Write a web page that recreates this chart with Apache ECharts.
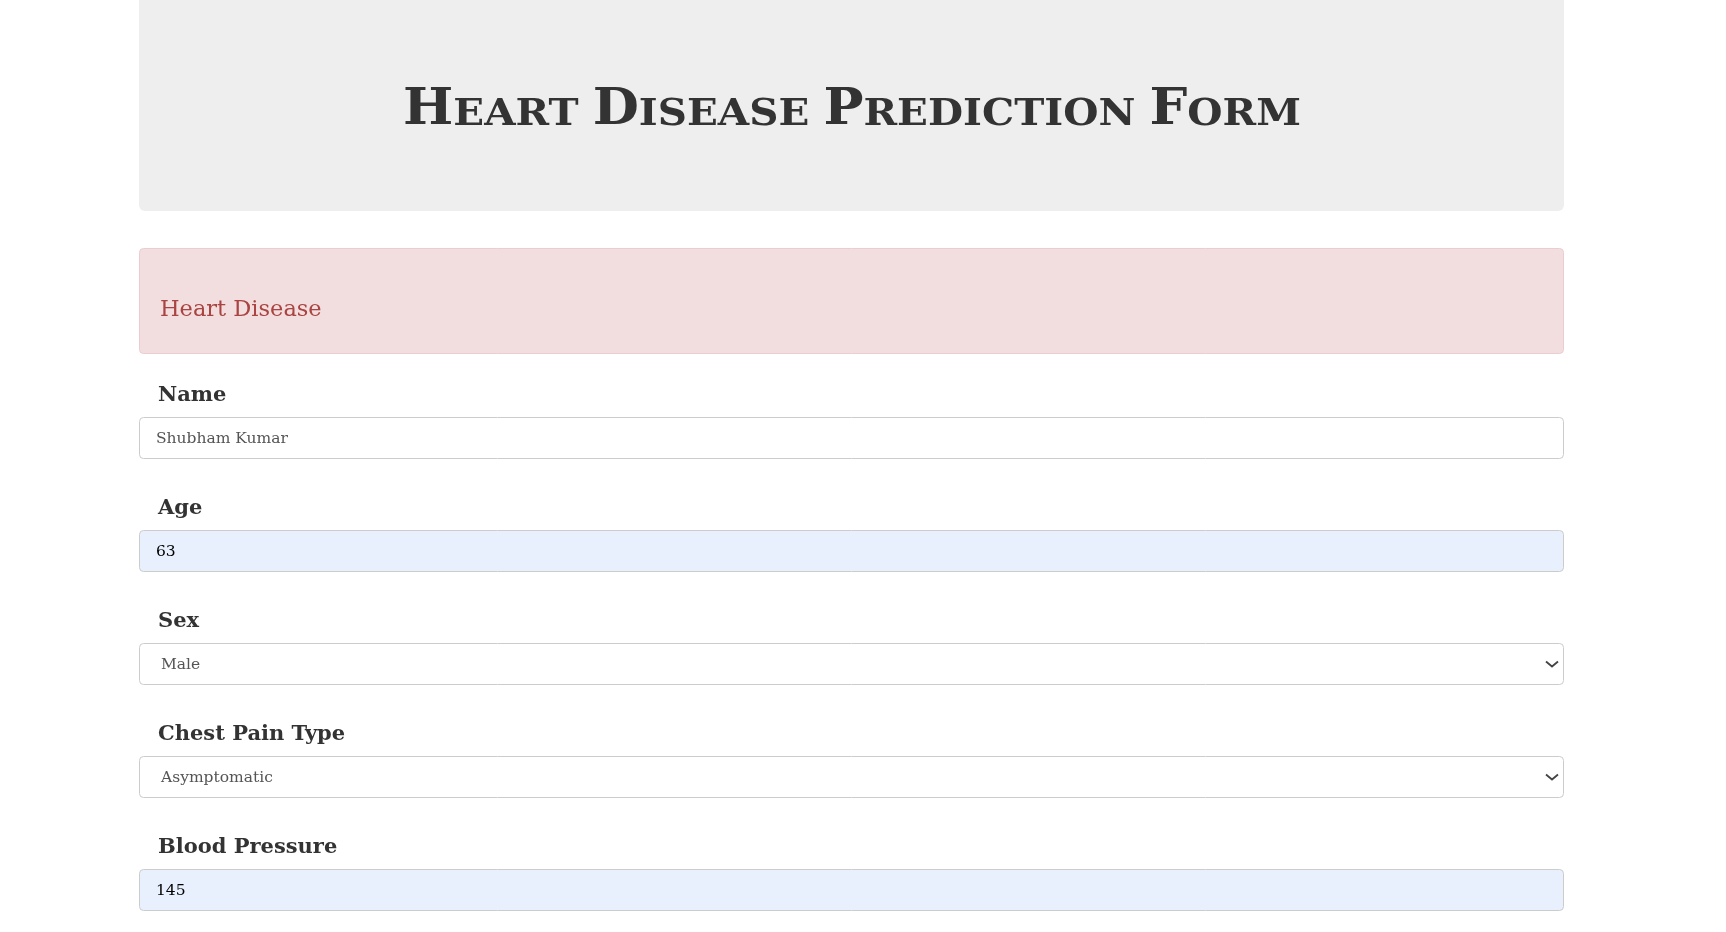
<!DOCTYPE html>
<html>
<head>
    <meta charset="utf-8" />
    <title>Heart Disease Prediction Form</title>
    <script src="https://cdn.jsdelivr.net/npm/echarts@6.0.0/dist/echarts.min.js"></script>
    <style>
        html, body { margin: 0; padding: 0; background: #fff; }
        #container { width: 1726px; height: 932px; }
    </style>
</head>
<body>
    <div id="container"></div>
    <script>
        // form content
        var titleWords = ['Heart', 'Disease', 'Prediction', 'Form'];
        var alertText = 'Heart Disease';
        var fieldLabels = ['Name', 'Age', 'Sex', 'Chest Pain Type', 'Blood Pressure'];
        var fieldValues = ['Shubham Kumar', '63', 'Male', 'Asymptomatic', '145'];
        var fieldKinds = ['input', 'input', 'select', 'select', 'input'];
        var fieldAutofilled = [false, true, false, false, true];

        var FONT = '"DejaVu Serif", Georgia, serif';
        var K = 0.32; // baseline offset from middle, in em
        var boxLeft = 139.5, boxRight = 1563.5;
        var rowTop = 417, rowStep = 113, boxH = 42;

        var measureCtx = document.createElement('canvas').getContext('2d');
        function measure(text, size, weight) {
            measureCtx.font = weight + ' ' + size + 'px ' + FONT;
            return measureCtx.measureText(text).width;
        }

        function textAt(x, baseline, text, size, weight, color) {
            return {
                type: 'text',
                x: x,
                y: baseline - K * size,
                style: {
                    text: text,
                    font: weight + ' ' + size + 'px ' + FONT,
                    fill: color,
                    align: 'left',
                    verticalAlign: 'middle'
                }
            };
        }

        var dom = document.getElementById('container');
        var myChart = echarts.init(dom, null, { renderer: 'canvas' });
        var elements = [];

        // header panel
        elements.push({
            type: 'rect',
            shape: { x: 139, y: -10, width: 1425, height: 221, r: 6 },
            style: { fill: '#eeeeee' }
        });

        // small caps title: big first letter, smaller capitals after it
        var capSize = 50, scSize = 38, titleBase = 127;
        var titleCenter = 852, titleWidth = 898;
        var pieces = [];
        titleWords.forEach(function (w, i) {
            if (i > 0) pieces.push({ t: ' ', s: scSize });
            pieces.push({ t: w.charAt(0).toUpperCase(), s: capSize });
            pieces.push({ t: w.slice(1).toUpperCase(), s: scSize });
        });
        var cx = 0, titleChildren = [];
        pieces.forEach(function (p) {
            if (p.t !== ' ') titleChildren.push(textAt(cx, titleBase, p.t, p.s, 'bold', '#333333'));
            cx += measure(p.t, p.s, 'bold');
        });
        var sx = titleWidth / cx;
        elements.push({
            type: 'group',
            x: titleCenter - titleWidth / 2,
            y: 0,
            scaleX: sx,
            children: titleChildren
        });

        // alert box
        elements.push({
            type: 'rect',
            shape: { x: 139.5, y: 248.5, width: 1424, height: 105, r: 4 },
            style: { fill: '#f2dede', stroke: '#ebccd1', lineWidth: 1 }
        });
        elements.push(textAt(160, 317, alertText, 22.5, 'normal', '#a94442'));

        // fields
        fieldLabels.forEach(function (label, i) {
            var top = rowTop + i * rowStep;
            elements.push(textAt(158, top - 15, label, 21, 'bold', '#333333'));
            elements.push({
                type: 'rect',
                shape: { x: boxLeft, y: top + 0.5, width: boxRight - boxLeft, height: boxH - 1, r: 4 },
                style: { fill: fieldAutofilled[i] ? '#e8f0fe' : '#ffffff', stroke: '#cccccc', lineWidth: 1 }
            });
            var isSelect = fieldKinds[i] === 'select';
            elements.push(textAt(isSelect ? 161 : 156, top + 27, fieldValues[i], 15.5, 'normal',
                fieldAutofilled[i] ? '#000000' : '#555555'));
            if (isSelect) {
                elements.push({
                    type: 'polyline',
                    shape: { points: [[1546, top + 18.5], [1552, top + 23.5], [1558, top + 18.5]] },
                    style: { stroke: '#444444', lineWidth: 1.8, fill: null }
                });
            }
        });

        var option = {
            backgroundColor: '#ffffff',
            animation: false,
            graphic: { elements: elements }
        };
        myChart.setOption(option);
    </script>
</body>
</html>
